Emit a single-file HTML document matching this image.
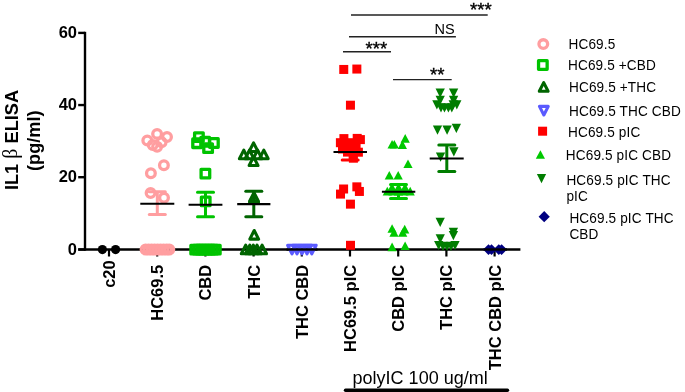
<!DOCTYPE html>
<html><head><meta charset="utf-8">
<style>
html,body{margin:0;padding:0;background:#fff;}
body{width:685px;height:392px;overflow:hidden;position:relative;font-family:"Liberation Sans",sans-serif;}
svg{position:absolute;left:0;top:0;will-change:transform;}
.t{font-family:"Liberation Sans",sans-serif;}
.b{font-weight:bold;}
</style></head><body>
<svg width="685" height="392" viewBox="0 0 685 392">
<rect width="685" height="392" fill="#fff"/>
<line x1="85.00" y1="31.80" x2="85.00" y2="250.70" stroke="#000" stroke-width="2.4" stroke-linecap="butt"/>
<line x1="78.20" y1="32.90" x2="85.00" y2="32.90" stroke="#000" stroke-width="2.4" stroke-linecap="butt"/>
<line x1="78.20" y1="105.05" x2="85.00" y2="105.05" stroke="#000" stroke-width="2.4" stroke-linecap="butt"/>
<line x1="78.20" y1="177.20" x2="85.00" y2="177.20" stroke="#000" stroke-width="2.4" stroke-linecap="butt"/>
<line x1="78.20" y1="249.50" x2="85.00" y2="249.50" stroke="#000" stroke-width="2.4" stroke-linecap="butt"/>
<line x1="78.20" y1="249.50" x2="520.40" y2="249.50" stroke="#000" stroke-width="2.4" stroke-linecap="butt"/>
<line x1="109.00" y1="249.50" x2="109.00" y2="256.50" stroke="#000" stroke-width="2.2" stroke-linecap="butt"/>
<line x1="157.20" y1="249.50" x2="157.20" y2="256.50" stroke="#000" stroke-width="2.2" stroke-linecap="butt"/>
<line x1="205.40" y1="249.50" x2="205.40" y2="256.50" stroke="#000" stroke-width="2.2" stroke-linecap="butt"/>
<line x1="253.60" y1="249.50" x2="253.60" y2="256.50" stroke="#000" stroke-width="2.2" stroke-linecap="butt"/>
<line x1="301.80" y1="249.50" x2="301.80" y2="256.50" stroke="#000" stroke-width="2.2" stroke-linecap="butt"/>
<line x1="350.00" y1="249.50" x2="350.00" y2="256.50" stroke="#000" stroke-width="2.2" stroke-linecap="butt"/>
<line x1="398.20" y1="249.50" x2="398.20" y2="256.50" stroke="#000" stroke-width="2.2" stroke-linecap="butt"/>
<line x1="446.40" y1="249.50" x2="446.40" y2="256.50" stroke="#000" stroke-width="2.2" stroke-linecap="butt"/>
<line x1="494.60" y1="249.50" x2="494.60" y2="256.50" stroke="#000" stroke-width="2.2" stroke-linecap="butt"/>
<circle cx="102.40" cy="249.60" r="4.6" fill="#000"/>
<circle cx="115.60" cy="249.60" r="4.6" fill="#000"/>
<line x1="157.30" y1="191.80" x2="157.30" y2="214.60" stroke="#ff9ea0" stroke-width="3" stroke-linecap="butt"/>
<line x1="149.30" y1="191.80" x2="165.30" y2="191.80" stroke="#ff9ea0" stroke-width="3" stroke-linecap="round"/>
<line x1="149.30" y1="214.60" x2="165.30" y2="214.60" stroke="#ff9ea0" stroke-width="3" stroke-linecap="round"/>
<circle cx="157.10" cy="133.90" r="4.35" fill="none" stroke="#ff9ea0" stroke-width="3.3"/>
<circle cx="167.00" cy="137.00" r="4.35" fill="none" stroke="#ff9ea0" stroke-width="3.3"/>
<circle cx="147.30" cy="140.50" r="4.35" fill="none" stroke="#ff9ea0" stroke-width="3.3"/>
<circle cx="161.60" cy="142.30" r="4.35" fill="none" stroke="#ff9ea0" stroke-width="3.3"/>
<circle cx="152.70" cy="145.00" r="4.35" fill="none" stroke="#ff9ea0" stroke-width="3.3"/>
<circle cx="157.10" cy="146.80" r="4.35" fill="none" stroke="#ff9ea0" stroke-width="3.3"/>
<circle cx="163.90" cy="165.20" r="4.35" fill="none" stroke="#ff9ea0" stroke-width="3.3"/>
<circle cx="150.90" cy="173.20" r="4.35" fill="none" stroke="#ff9ea0" stroke-width="3.3"/>
<circle cx="150.60" cy="193.00" r="4.35" fill="none" stroke="#ff9ea0" stroke-width="3.3"/>
<circle cx="164.00" cy="197.80" r="4.35" fill="none" stroke="#ff9ea0" stroke-width="3.3"/>
<circle cx="145.60" cy="249.60" r="4.35" fill="none" stroke="#ff9ea0" stroke-width="3.3"/>
<circle cx="148.60" cy="249.60" r="4.35" fill="none" stroke="#ff9ea0" stroke-width="3.3"/>
<circle cx="151.60" cy="249.60" r="4.35" fill="none" stroke="#ff9ea0" stroke-width="3.3"/>
<circle cx="154.60" cy="249.60" r="4.35" fill="none" stroke="#ff9ea0" stroke-width="3.3"/>
<circle cx="157.60" cy="249.60" r="4.35" fill="none" stroke="#ff9ea0" stroke-width="3.3"/>
<circle cx="160.60" cy="249.60" r="4.35" fill="none" stroke="#ff9ea0" stroke-width="3.3"/>
<circle cx="163.60" cy="249.60" r="4.35" fill="none" stroke="#ff9ea0" stroke-width="3.3"/>
<circle cx="166.60" cy="249.60" r="4.35" fill="none" stroke="#ff9ea0" stroke-width="3.3"/>
<circle cx="169.30" cy="249.60" r="4.35" fill="none" stroke="#ff9ea0" stroke-width="3.3"/>
<line x1="140.30" y1="203.80" x2="174.30" y2="203.80" stroke="#000" stroke-width="2.1" stroke-linecap="butt"/>
<line x1="205.50" y1="192.20" x2="205.50" y2="216.70" stroke="#00c300" stroke-width="3" stroke-linecap="butt"/>
<line x1="197.50" y1="192.20" x2="213.50" y2="192.20" stroke="#00c300" stroke-width="3" stroke-linecap="round"/>
<line x1="197.50" y1="216.70" x2="213.50" y2="216.70" stroke="#00c300" stroke-width="3" stroke-linecap="round"/>
<rect x="194.60" y="132.80" width="8.6" height="8.6" fill="none" stroke="#00c300" stroke-width="3.3" stroke-linejoin="round"/>
<rect x="192.80" y="138.90" width="8.6" height="8.6" fill="none" stroke="#00c300" stroke-width="3.3" stroke-linejoin="round"/>
<rect x="200.90" y="137.50" width="8.6" height="8.6" fill="none" stroke="#00c300" stroke-width="3.3" stroke-linejoin="round"/>
<rect x="209.60" y="138.70" width="8.6" height="8.6" fill="none" stroke="#00c300" stroke-width="3.3" stroke-linejoin="round"/>
<rect x="203.80" y="143.80" width="8.6" height="8.6" fill="none" stroke="#00c300" stroke-width="3.3" stroke-linejoin="round"/>
<rect x="201.10" y="169.30" width="8.6" height="8.6" fill="none" stroke="#00c300" stroke-width="3.3" stroke-linejoin="round"/>
<rect x="201.40" y="197.10" width="8.6" height="8.6" fill="none" stroke="#00c300" stroke-width="3.3" stroke-linejoin="round"/>
<rect x="190.90" y="245.30" width="8.6" height="8.6" fill="none" stroke="#00c300" stroke-width="3.3" stroke-linejoin="round"/>
<rect x="193.70" y="245.30" width="8.6" height="8.6" fill="none" stroke="#00c300" stroke-width="3.3" stroke-linejoin="round"/>
<rect x="196.70" y="245.30" width="8.6" height="8.6" fill="none" stroke="#00c300" stroke-width="3.3" stroke-linejoin="round"/>
<rect x="199.70" y="245.30" width="8.6" height="8.6" fill="none" stroke="#00c300" stroke-width="3.3" stroke-linejoin="round"/>
<rect x="202.70" y="245.30" width="8.6" height="8.6" fill="none" stroke="#00c300" stroke-width="3.3" stroke-linejoin="round"/>
<rect x="205.70" y="245.30" width="8.6" height="8.6" fill="none" stroke="#00c300" stroke-width="3.3" stroke-linejoin="round"/>
<rect x="208.70" y="245.30" width="8.6" height="8.6" fill="none" stroke="#00c300" stroke-width="3.3" stroke-linejoin="round"/>
<rect x="211.50" y="245.30" width="8.6" height="8.6" fill="none" stroke="#00c300" stroke-width="3.3" stroke-linejoin="round"/>
<line x1="188.60" y1="204.70" x2="222.40" y2="204.70" stroke="#000" stroke-width="2.1" stroke-linecap="butt"/>
<line x1="253.80" y1="191.20" x2="253.80" y2="216.70" stroke="#006400" stroke-width="3" stroke-linecap="butt"/>
<line x1="245.80" y1="191.20" x2="261.80" y2="191.20" stroke="#006400" stroke-width="3" stroke-linecap="round"/>
<line x1="245.80" y1="216.70" x2="261.80" y2="216.70" stroke="#006400" stroke-width="3" stroke-linecap="round"/>
<path d="M253.55 142.90 L257.95 151.50 L249.15 151.50Z" fill="none" stroke="#006400" stroke-width="3.1" stroke-linejoin="round"/>
<path d="M243.80 150.10 L248.20 158.70 L239.40 158.70Z" fill="none" stroke="#006400" stroke-width="3.1" stroke-linejoin="round"/>
<path d="M263.80 150.10 L268.20 158.70 L259.40 158.70Z" fill="none" stroke="#006400" stroke-width="3.1" stroke-linejoin="round"/>
<path d="M249.50 150.10 L253.90 158.70 L245.10 158.70Z" fill="none" stroke="#006400" stroke-width="3.1" stroke-linejoin="round"/>
<path d="M257.60 150.10 L262.00 158.70 L253.20 158.70Z" fill="none" stroke="#006400" stroke-width="3.1" stroke-linejoin="round"/>
<path d="M253.55 156.90 L257.95 165.50 L249.15 165.50Z" fill="none" stroke="#006400" stroke-width="3.1" stroke-linejoin="round"/>
<path d="M254.00 192.70 L258.40 201.30 L249.60 201.30Z" fill="none" stroke="#006400" stroke-width="3.1" stroke-linejoin="round"/>
<path d="M254.00 193.90 L258.40 202.50 L249.60 202.50Z" fill="none" stroke="#006400" stroke-width="3.1" stroke-linejoin="round"/>
<path d="M254.20 230.50 L258.60 239.10 L249.80 239.10Z" fill="none" stroke="#006400" stroke-width="3.1" stroke-linejoin="round"/>
<path d="M245.70 245.20 L250.10 253.80 L241.30 253.80Z" fill="none" stroke="#006400" stroke-width="3.1" stroke-linejoin="round"/>
<path d="M249.80 245.20 L254.20 253.80 L245.40 253.80Z" fill="none" stroke="#006400" stroke-width="3.1" stroke-linejoin="round"/>
<path d="M253.30 245.20 L257.70 253.80 L248.90 253.80Z" fill="none" stroke="#006400" stroke-width="3.1" stroke-linejoin="round"/>
<path d="M257.00 245.20 L261.40 253.80 L252.60 253.80Z" fill="none" stroke="#006400" stroke-width="3.1" stroke-linejoin="round"/>
<path d="M262.10 245.20 L266.50 253.80 L257.70 253.80Z" fill="none" stroke="#006400" stroke-width="3.1" stroke-linejoin="round"/>
<line x1="237.20" y1="204.10" x2="270.40" y2="204.10" stroke="#000" stroke-width="2.1" stroke-linecap="butt"/>
<path d="M292.00 253.80 L296.40 245.20 L287.60 245.20Z" fill="none" stroke="#5a5aff" stroke-width="3.1" stroke-linejoin="round"/>
<path d="M297.00 253.80 L301.40 245.20 L292.60 245.20Z" fill="none" stroke="#5a5aff" stroke-width="3.1" stroke-linejoin="round"/>
<path d="M302.00 253.80 L306.40 245.20 L297.60 245.20Z" fill="none" stroke="#5a5aff" stroke-width="3.1" stroke-linejoin="round"/>
<path d="M307.00 253.80 L311.40 245.20 L302.60 245.20Z" fill="none" stroke="#5a5aff" stroke-width="3.1" stroke-linejoin="round"/>
<path d="M311.80 253.80 L316.20 245.20 L307.40 245.20Z" fill="none" stroke="#5a5aff" stroke-width="3.1" stroke-linejoin="round"/>
<line x1="286.50" y1="249.50" x2="317.50" y2="249.50" stroke="#000" stroke-width="2.4" stroke-linecap="butt"/>
<line x1="350.20" y1="143.90" x2="350.20" y2="160.10" stroke="#ff0000" stroke-width="3" stroke-linecap="butt"/>
<line x1="342.20" y1="143.90" x2="358.20" y2="143.90" stroke="#ff0000" stroke-width="3" stroke-linecap="round"/>
<line x1="342.20" y1="160.10" x2="358.20" y2="160.10" stroke="#ff0000" stroke-width="3" stroke-linecap="round"/>
<rect x="339.25" y="64.95" width="9.0" height="9.0" fill="#ff0000"/>
<rect x="352.35" y="64.55" width="9.0" height="9.0" fill="#ff0000"/>
<rect x="345.95" y="100.70" width="9.0" height="9.0" fill="#ff0000"/>
<rect x="339.40" y="134.10" width="9.0" height="9.0" fill="#ff0000"/>
<rect x="352.70" y="133.90" width="9.0" height="9.0" fill="#ff0000"/>
<rect x="355.90" y="135.10" width="9.0" height="9.0" fill="#ff0000"/>
<rect x="345.00" y="138.20" width="9.0" height="9.0" fill="#ff0000"/>
<rect x="335.90" y="138.20" width="9.0" height="9.0" fill="#ff0000"/>
<rect x="338.00" y="144.50" width="9.0" height="9.0" fill="#ff0000"/>
<rect x="351.60" y="139.00" width="9.0" height="9.0" fill="#ff0000"/>
<rect x="343.50" y="142.50" width="9.0" height="9.0" fill="#ff0000"/>
<rect x="353.90" y="147.70" width="9.0" height="9.0" fill="#ff0000"/>
<rect x="343.00" y="147.60" width="9.0" height="9.0" fill="#ff0000"/>
<rect x="347.50" y="145.50" width="9.0" height="9.0" fill="#ff0000"/>
<rect x="348.90" y="153.70" width="9.0" height="9.0" fill="#ff0000"/>
<rect x="339.10" y="184.50" width="9.0" height="9.0" fill="#ff0000"/>
<rect x="336.00" y="189.60" width="9.0" height="9.0" fill="#ff0000"/>
<rect x="352.35" y="182.35" width="9.0" height="9.0" fill="#ff0000"/>
<rect x="354.90" y="186.95" width="9.0" height="9.0" fill="#ff0000"/>
<rect x="345.95" y="199.65" width="9.0" height="9.0" fill="#ff0000"/>
<rect x="346.00" y="240.80" width="9.0" height="9.0" fill="#ff0000"/>
<line x1="333.50" y1="152.00" x2="367.00" y2="152.00" stroke="#000" stroke-width="2.1" stroke-linecap="butt"/>
<line x1="398.50" y1="184.50" x2="398.50" y2="198.50" stroke="#00c800" stroke-width="3" stroke-linecap="butt"/>
<line x1="390.50" y1="184.50" x2="406.50" y2="184.50" stroke="#00c800" stroke-width="3" stroke-linecap="round"/>
<line x1="390.50" y1="198.50" x2="406.50" y2="198.50" stroke="#00c800" stroke-width="3" stroke-linecap="round"/>
<path d="M405.20 134.10 L409.80 142.70 L400.60 142.70Z" fill="#00c800"/>
<path d="M392.10 140.00 L396.70 148.60 L387.50 148.60Z" fill="#00c800"/>
<path d="M394.30 140.00 L398.90 148.60 L389.70 148.60Z" fill="#00c800"/>
<path d="M402.40 140.30 L407.00 148.90 L397.80 148.90Z" fill="#00c800"/>
<path d="M408.00 159.40 L412.60 168.00 L403.40 168.00Z" fill="#00c800"/>
<path d="M389.30 170.90 L393.90 179.50 L384.70 179.50Z" fill="#00c800"/>
<path d="M398.20 170.90 L402.80 179.50 L393.60 179.50Z" fill="#00c800"/>
<path d="M392.00 182.90 L396.60 191.50 L387.40 191.50Z" fill="#00c800"/>
<path d="M398.50 182.90 L403.10 191.50 L393.90 191.50Z" fill="#00c800"/>
<path d="M405.00 182.90 L409.60 191.50 L400.40 191.50Z" fill="#00c800"/>
<path d="M387.30 186.80 L391.90 195.40 L382.70 195.40Z" fill="#00c800"/>
<path d="M393.00 186.80 L397.60 195.40 L388.40 195.40Z" fill="#00c800"/>
<path d="M398.50 186.80 L403.10 195.40 L393.90 195.40Z" fill="#00c800"/>
<path d="M404.00 186.80 L408.60 195.40 L399.40 195.40Z" fill="#00c800"/>
<path d="M410.20 186.80 L414.80 195.40 L405.60 195.40Z" fill="#00c800"/>
<path d="M392.10 224.20 L396.70 232.80 L387.50 232.80Z" fill="#00c800"/>
<path d="M394.00 228.20 L398.60 236.80 L389.40 236.80Z" fill="#00c800"/>
<path d="M404.70 224.80 L409.30 233.40 L400.10 233.40Z" fill="#00c800"/>
<path d="M402.70 228.20 L407.30 236.80 L398.10 236.80Z" fill="#00c800"/>
<path d="M392.10 242.60 L396.70 251.20 L387.50 251.20Z" fill="#00c800"/>
<path d="M405.10 241.40 L409.70 250.00 L400.50 250.00Z" fill="#00c800"/>
<line x1="381.90" y1="191.80" x2="415.30" y2="191.80" stroke="#000" stroke-width="2.1" stroke-linecap="butt"/>
<line x1="446.80" y1="145.00" x2="446.80" y2="171.50" stroke="#007d00" stroke-width="3" stroke-linecap="butt"/>
<line x1="438.80" y1="145.00" x2="454.80" y2="145.00" stroke="#007d00" stroke-width="3" stroke-linecap="round"/>
<line x1="438.80" y1="171.50" x2="454.80" y2="171.50" stroke="#007d00" stroke-width="3" stroke-linecap="round"/>
<path d="M440.20 97.70 L444.85 88.50 L435.55 88.50Z" fill="#007d00"/>
<path d="M453.60 97.70 L458.25 88.50 L448.95 88.50Z" fill="#007d00"/>
<path d="M440.20 105.00 L444.85 95.80 L435.55 95.80Z" fill="#007d00"/>
<path d="M453.60 105.00 L458.25 95.80 L448.95 95.80Z" fill="#007d00"/>
<path d="M436.90 109.40 L441.55 100.20 L432.25 100.20Z" fill="#007d00"/>
<path d="M453.20 109.40 L457.85 100.20 L448.55 100.20Z" fill="#007d00"/>
<path d="M456.80 109.40 L461.45 100.20 L452.15 100.20Z" fill="#007d00"/>
<path d="M441.00 112.50 L445.65 103.30 L436.35 103.30Z" fill="#007d00"/>
<path d="M444.50 112.60 L449.15 103.40 L439.85 103.40Z" fill="#007d00"/>
<path d="M448.40 112.60 L453.05 103.40 L443.75 103.40Z" fill="#007d00"/>
<path d="M451.80 112.50 L456.45 103.30 L447.15 103.30Z" fill="#007d00"/>
<path d="M437.50 134.70 L442.15 125.50 L432.85 125.50Z" fill="#007d00"/>
<path d="M447.10 134.70 L451.75 125.50 L442.45 125.50Z" fill="#007d00"/>
<path d="M456.35 133.00 L461.00 123.80 L451.70 123.80Z" fill="#007d00"/>
<path d="M453.85 156.40 L458.50 147.20 L449.20 147.20Z" fill="#007d00"/>
<path d="M440.55 161.80 L445.20 152.60 L435.90 152.60Z" fill="#007d00"/>
<path d="M440.20 227.00 L444.85 217.80 L435.55 217.80Z" fill="#007d00"/>
<path d="M453.40 236.90 L458.05 227.70 L448.75 227.70Z" fill="#007d00"/>
<path d="M453.40 240.30 L458.05 231.10 L448.75 231.10Z" fill="#007d00"/>
<path d="M440.25 243.40 L444.90 234.20 L435.60 234.20Z" fill="#007d00"/>
<path d="M438.70 250.10 L443.35 240.90 L434.05 240.90Z" fill="#007d00"/>
<path d="M443.00 250.90 L447.65 241.70 L438.35 241.70Z" fill="#007d00"/>
<path d="M447.00 251.10 L451.65 241.90 L442.35 241.90Z" fill="#007d00"/>
<path d="M451.00 250.90 L455.65 241.70 L446.35 241.70Z" fill="#007d00"/>
<path d="M455.00 250.10 L459.65 240.90 L450.35 240.90Z" fill="#007d00"/>
<line x1="429.70" y1="158.50" x2="463.70" y2="158.50" stroke="#000" stroke-width="2.1" stroke-linecap="butt"/>
<path d="M488.50 244.20 L493.90 249.60 L488.50 255.00 L483.10 249.60Z" fill="#000080"/>
<path d="M491.50 244.20 L496.90 249.60 L491.50 255.00 L486.10 249.60Z" fill="#000080"/>
<path d="M498.80 244.20 L504.20 249.60 L498.80 255.00 L493.40 249.60Z" fill="#000080"/>
<path d="M501.60 244.20 L507.00 249.60 L501.60 255.00 L496.20 249.60Z" fill="#000080"/>
<line x1="483.50" y1="249.50" x2="507.00" y2="249.50" stroke="#000" stroke-width="2.4" stroke-linecap="butt"/>
<line x1="351.00" y1="15.00" x2="487.70" y2="15.00" stroke="#222" stroke-width="1.4" stroke-linecap="butt"/>
<line x1="349.00" y1="36.70" x2="455.90" y2="36.70" stroke="#222" stroke-width="1.4" stroke-linecap="butt"/>
<line x1="343.00" y1="51.80" x2="391.00" y2="51.80" stroke="#222" stroke-width="1.4" stroke-linecap="butt"/>
<line x1="393.00" y1="79.60" x2="451.70" y2="79.60" stroke="#222" stroke-width="1.4" stroke-linecap="butt"/>
<circle cx="543.30" cy="44.10" r="4.35" fill="none" stroke="#ff9ea0" stroke-width="3.3"/>
<rect x="538.55" y="60.70" width="8.6" height="8.6" fill="none" stroke="#00c300" stroke-width="3.3" stroke-linejoin="round"/>
<path d="M543.70 82.65 L548.10 91.25 L539.30 91.25Z" fill="none" stroke="#006400" stroke-width="3.1" stroke-linejoin="round"/>
<path d="M543.85 114.95 L548.25 106.35 L539.45 106.35Z" fill="none" stroke="#5a5aff" stroke-width="3.1" stroke-linejoin="round"/>
<rect x="538.10" y="126.70" width="9.0" height="9.0" fill="#ff0000"/>
<path d="M540.40 150.20 L545.00 158.80 L535.80 158.80Z" fill="#00c800"/>
<path d="M541.50 183.30 L546.15 174.10 L536.85 174.10Z" fill="#007d00"/>
<path d="M544.20 211.10 L549.80 216.70 L544.20 222.30 L538.60 216.70Z" fill="#000080"/>
<g class="t b" font-size="16.5" fill="#000">
<text x="77" y="38.0" text-anchor="end">60</text>
<text x="77" y="110.1" text-anchor="end">40</text>
<text x="77" y="182.3" text-anchor="end">20</text>
<text x="77" y="254.5" text-anchor="end">0</text>
</g>
<g class="t b" font-size="16.5" fill="#000">
<text transform="translate(115.00,260.3) rotate(-90)" text-anchor="end">c20</text>
<text transform="translate(163.20,264.8) rotate(-90)" text-anchor="end">HC69.5</text>
<text transform="translate(211.40,264.8) rotate(-90)" text-anchor="end">CBD</text>
<text transform="translate(259.60,264.8) rotate(-90)" text-anchor="end">THC</text>
<text transform="translate(307.80,264.8) rotate(-90)" text-anchor="end">THC CBD</text>
<text transform="translate(356.00,264.8) rotate(-90)" text-anchor="end">HC69.5 pIC</text>
<text transform="translate(404.20,264.8) rotate(-90)" text-anchor="end">CBD pIC</text>
<text transform="translate(452.40,264.8) rotate(-90)" text-anchor="end">THC pIC</text>
<text transform="translate(500.60,264.8) rotate(-90)" text-anchor="end">THC CBD pIC</text>
</g>
<g class="t b" font-size="18.2" fill="#000">
<text transform="translate(18,140) rotate(-90)" text-anchor="middle">IL1 <tspan font-family="Liberation Serif" font-weight="normal" font-size="20" dy="-1.5">β</tspan><tspan dy="1.5"> ELISA</tspan></text>
<text transform="translate(39.5,140.7) rotate(-90)" text-anchor="middle">(pg/ml)</text>
</g>
<g class="t" fill="#000">
<text x="470" y="15.8" font-size="18.6" stroke="#000" stroke-width="0.35">***</text>
<text x="434.5" y="33.7" font-size="14.5">NS</text>
<text x="365.5" y="54.7" font-size="18.6" stroke="#000" stroke-width="0.35">***</text>
<text x="430" y="81.2" font-size="18.6" stroke="#000" stroke-width="0.35">**</text>
</g>
<g class="t" font-size="13.6" fill="#000" letter-spacing="0.13">
<text transform="translate(568.5,48.9) scale(1,1.09)">HC69.5</text>
<text transform="translate(568.0,70.4) scale(1,1.09)">HC69.5 +CBD</text>
<text transform="translate(569,92.3) scale(1,1.09)">HC69.5 +THC</text>
<text transform="translate(569,116.0) scale(1,1.09)">HC69.5 THC CBD</text>
<text transform="translate(568.0,136.7) scale(1,1.09)">HC69.5 pIC</text>
<text transform="translate(565.8,160.1) scale(1,1.09)">HC69.5 pIC CBD</text>
<text transform="translate(566.4,185.1) scale(1,1.09)">HC69.5 pIC THC</text>
<text transform="translate(566.4,201.3) scale(1,1.09)">pIC</text>
<text transform="translate(569.4,222.6) scale(1,1.09)">HC69.5 pIC THC</text>
<text transform="translate(569.4,239.2) scale(1,1.09)">CBD</text>
</g>
<text class="t" x="352.6" y="384.3" font-size="18" fill="#000">polyIC 100 ug/ml</text>
<line x1="345.5" y1="390.3" x2="507.5" y2="390.3" stroke="#000" stroke-width="3.4" stroke-linecap="round"/>
</svg>
</body></html>
